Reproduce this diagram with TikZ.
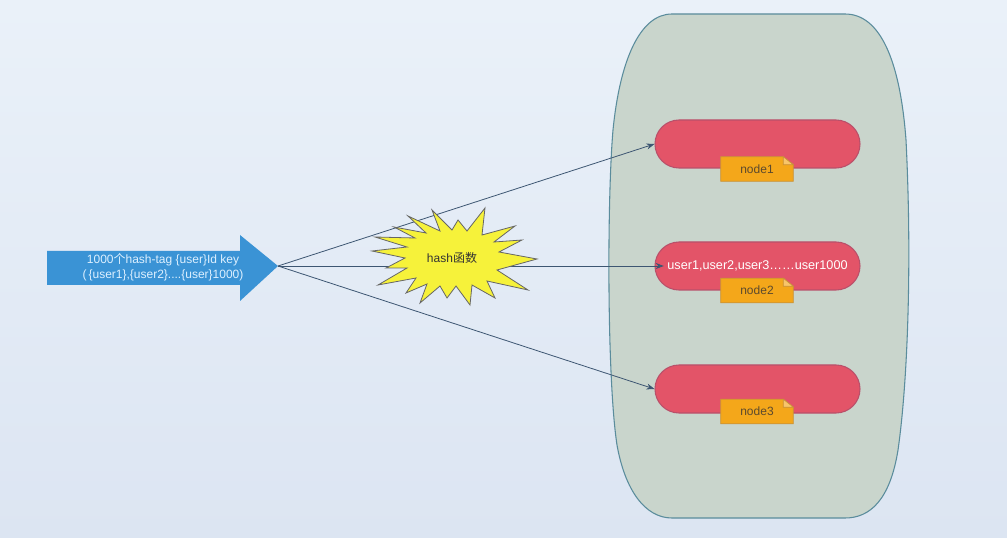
\documentclass[tikz,border=0pt]{standalone}
\usepackage{fontspec}
\setmainfont{Liberation Sans}
\newfontfamily\cjk{Noto Sans CJK SC}
\usetikzlibrary{arrows.meta}
\definecolor{bgtop}{HTML}{EAF1F9}
\definecolor{bgbot}{HTML}{DCE5F2}
\definecolor{contfill}{HTML}{C9D5CC}
\definecolor{contline}{HTML}{5A8C9C}
\definecolor{pillfill}{HTML}{E35468}
\definecolor{pillline}{HTML}{B9506A}
\definecolor{notefill}{HTML}{F4A71A}
\definecolor{noteline}{HTML}{C8923A}
\definecolor{notefold}{HTML}{F8C56A}
\definecolor{notetext}{HTML}{5C4A2E}
\definecolor{arrowblue}{HTML}{3A93D5}
\definecolor{arrowtext}{HTML}{DDF0FF}
\definecolor{starfill}{HTML}{F6F23A}
\definecolor{starline}{HTML}{666666}
\definecolor{conncol}{HTML}{3D5672}
\tikzset{
  pill/.style={draw=pillline, line width=0.8pt, fill=pillfill, rounded corners=18pt,
    minimum width=153.75pt, minimum height=36pt, inner sep=0pt,
    text=white, font=\fontsize{9.5pt}{11pt}\selectfont},
  notesize/.style={minimum width=54pt, minimum height=18pt, inner sep=0pt},
  notelabel/.style={text=notetext, font=\fontsize{9pt}{11pt}\selectfont, inner sep=0pt},
  conn/.style={draw=conncol, line width=0.6pt, -{Stealth[length=6pt,width=4.5pt]}},
  arrowlabel/.style={text=arrowtext, align=center, font=\fontsize{9pt}{11.5pt}\selectfont, inner sep=0pt},
  starlabel/.style={text=black!80, font=\fontsize{9pt}{11pt}\selectfont, inner sep=0pt}
}
\begin{document}
\begin{tikzpicture}[x=0.75pt,y=-0.75pt]
\shade[top color=bgtop,bottom color=bgbot] (0,0) rectangle (1007,538);
\useasboundingbox (0,0) rectangle (1007,538);

% container
\filldraw[fill=contfill, draw=contline, line width=0.8pt]
  (672,14) -- (845,14)
  .. controls (880,14) and (900,60) .. (906,140)
  .. controls (912,260) and (908,380) .. (898,450)
  .. controls (890,500) and (870,518) .. (845,518)
  -- (672,518)
  .. controls (645,518) and (625,490) .. (617,445)
  .. controls (607,380) and (607,200) .. (613,130)
  .. controls (620,60) and (640,14) .. (672,14) -- cycle;

% pills
\node[pill] (p1) at (757.5,144) {};
\node[pill] (p2) at (757.5,266) {user1,user2,user3……user1000};
\node[pill] (p3) at (757.5,389) {};

% notes
\path node[notesize] (n1) at (757,169) {}
      node[notesize] (n2) at (757,290.5) {}
      node[notesize] (n3) at (757,411.5) {};
\foreach \n in {n1,n2,n3}{
  \filldraw[fill=notefill, draw=noteline, line width=0.6pt]
    (\n.south west) -- (\n.north west) -- ([xshift=-7.5pt]\n.north east)
    -- ([yshift=-6pt]\n.north east) -- (\n.south east) -- cycle;
  \filldraw[fill=notefold, draw=noteline, line width=0.5pt]
    ([xshift=-7.5pt]\n.north east) -- ([xshift=-7.5pt,yshift=-6pt]\n.north east)
    -- ([yshift=-6pt]\n.north east) -- cycle;
}
\node[notelabel] (n1t) at (n1) {node1};
\node[notelabel] (n2t) at (n2) {node2};
\node[notelabel] (n3t) at (n3) {node3};

% source arrow
\coordinate (src) at (278,266);
\fill[arrowblue] (47,251) -- (240,251) -- (240,235) -- (src) -- (240,301) -- (240,285) -- (47,285) -- cycle;
\node[arrowlabel] (srct) at (163,267) {1000{\cjk 个}hash-tag \{user\}Id key\\(\,\{user1\},\{user2\}....\{user\}1000)};

% connectors
\draw[conn] (src) -- (p1.west);
\draw[conn] (src) -- ([xshift=7pt]p2.west);
\draw[conn] (src) -- (p3.west);

% starburst
\filldraw[fill=starfill, draw=starline, line width=0.6pt, line join=miter]
  (537,259) -- (497,270) -- (528,290) -- (487,281) -- (495,298) -- (472,285)
  -- (470,305) -- (456,286) -- (447,298) -- (440,286) -- (420,303) -- (427,284)
  -- (406,293) -- (416,278) -- (378,285) -- (407,268) -- (386,268) -- (405,258)
  -- (372,251) -- (407,247) -- (375,237) -- (415,238) -- (394,227) -- (426,233)
  -- (408,216) -- (440,231) -- (432,210) -- (452,230) -- (458,220) -- (467,231)
  -- (485,208) -- (482,235) -- (515,226) -- (494,242) -- (522,240) -- (499,252) -- cycle;
\node[starlabel] (hash) at (452,258) {hash{\cjk 函数}};
\end{tikzpicture}
\end{document}
